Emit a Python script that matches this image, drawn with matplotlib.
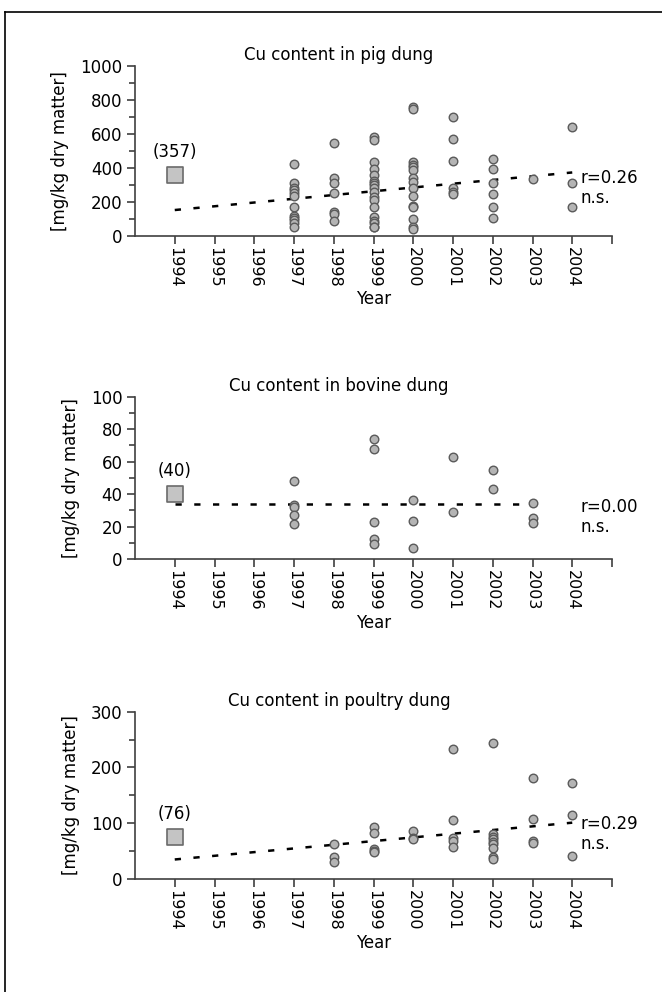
import numpy as np
import matplotlib
matplotlib.use("Agg")
import matplotlib.pyplot as plt
from matplotlib.lines import Line2D

plt.rcParams["font.family"] = ["DejaVu Sans"]
plt.rcParams["font.size"] = 12

years = list(range(1994, 2005))

# pig dung
pig_years = [1997] * 12 + [1998] * 7 + [1999] * 18 + [2000] * 15 + [2001] * 6 + [2002] * 6 + [2003] + [2004] * 3
pig_vals = [421, 308, 282, 269, 249, 235, 171, 118, 106, 92, 73, 49,
            545, 337, 308, 249, 137, 127, 88,
            578, 563, 435, 390, 357, 324, 308, 298, 278, 259, 229, 210, 171, 112, 88, 73, 53, 49,
            759, 743, 435, 416, 406, 386, 341, 318, 278, 235, 175, 167, 98, 49, 39,
            700, 569, 437, 278, 259, 243,
            449, 390, 308, 243, 171, 106,
            333,
            641, 308, 171]
pig_ref = 357
pig_trend = [(1994, 151), (2004, 372)]

# bovine dung
bov_years = [1997] * 5 + [1999] * 5 + [2000] * 3 + [2001] * 2 + [2002] * 2 + [2003] * 3
bov_vals = [48.3, 33, 32, 27, 21.4,
            74, 67.6, 23, 12.5, 9.4,
            36.3, 23.6, 7,
            63, 28.7,
            54.8, 43,
            34.7, 25.5, 22]
bov_ref = 40
bov_trend = [(1994, 34), (2003, 34)]

# poultry dung
pou_years = [1998] * 3 + [1999] * 5 + [2000] * 3 + [2001] * 5 + [2002] * 9 + [2003] * 4 + [2004] * 3
pou_vals = [63, 39, 30,
            93, 83, 54, 51, 48,
            86, 74, 72,
            234, 106, 74, 69, 58,
            244, 80, 76, 72, 67, 63, 56, 40, 36,
            182, 108, 68, 64,
            173, 115, 41]
pou_ref = 76
pou_trend = [(1994, 35), (2004, 101)]

panels = [
    dict(title="Cu content in pig dung", yrs=pig_years, vals=pig_vals, ref=pig_ref,
         trend=pig_trend, r="r=0.26", ymax=1000, major=200, minor=100,
         box=[135, 65.7, 612, 235.7], ry=178),
    dict(title="Cu content in bovine dung", yrs=bov_years, vals=bov_vals, ref=bov_ref,
         trend=bov_trend, r="r=0.00", ymax=100, major=20, minor=10,
         box=[135, 396.7, 612, 559], ry=507),
    dict(title="Cu content in poultry dung", yrs=pou_years, vals=pou_vals, ref=pou_ref,
         trend=pou_trend, r="r=0.29", ymax=300, major=100, minor=50,
         box=[135, 711.7, 612, 879], ry=824),
]

W, H = 662, 992
fig = plt.figure(figsize=(W / 100, H / 100), dpi=100)

# partial frame (top and left)
fig.add_artist(Line2D([5 / W, 5 / W], [0, 1 - 12 / H], color="black", lw=1.2))
fig.add_artist(Line2D([5 / W, 1], [1 - 12 / H, 1 - 12 / H], color="black", lw=1.2))

axis_col = "#404040"
for p in panels:
    x0, y0, x1, y1 = p["box"]
    ax = fig.add_axes([x0 / W, 1 - y1 / H, (x1 - x0) / W, (y1 - y0) / H])
    ax.set_xlim(1993, 2005)
    ax.set_ylim(0, p["ymax"])
    for s in ["top", "right"]:
        ax.spines[s].set_visible(False)
    for s in ["left", "bottom"]:
        ax.spines[s].set_color(axis_col)
        ax.spines[s].set_linewidth(1.2)
    ax.patch.set_visible(False)

    ax.set_xticks(list(range(1994, 2006)))
    ax.set_xticklabels([str(y) for y in years] + [""], rotation=270)
    ax.set_yticks(np.arange(0, p["ymax"] + 1, p["major"]))
    ax.set_yticks(np.arange(0, p["ymax"] + 1, p["minor"]), minor=True)
    ax.tick_params(axis="both", which="major", direction="out", length=6, width=1.2,
                   color=axis_col, labelsize=12, pad=3)
    ax.tick_params(axis="x", labelsize=11.5, pad=2)
    ax.tick_params(axis="y", which="minor", direction="out", length=4, width=1.2, color=axis_col)

    (tx0, ty0), (tx1, ty1) = p["trend"]
    ax.plot([tx0, tx1], [ty0, ty1], color="black", lw=1.8, dashes=(2.5, 5.0),
            solid_capstyle="butt", zorder=2)
    ax.scatter(p["yrs"], p["vals"], s=38, c="#b4b4b4", edgecolors="#5a5a5a",
               linewidths=1.0, zorder=3)
    ax.scatter([1994], [p["ref"]], s=130, marker="s", c="#c4c4c4",
               edgecolors="#6a6a6a", linewidths=1.2, zorder=3)
    ax.annotate("(%d)" % p["ref"], (1994, p["ref"]), xytext=(0, 10),
                textcoords="offset points", ha="center", va="bottom", fontsize=12)

    ax.set_xlabel("Year", fontsize=12, labelpad=2)
    ax.set_ylabel("[mg/kg dry matter]", fontsize=12, labelpad=8)

    fig.text(339 / W, 1 - (y0 - 11) / H, p["title"], ha="center", va="center", fontsize=12)
    fig.text(580 / W, 1 - p["ry"] / H, p["r"], ha="left", va="center", fontsize=12)
    fig.text(580 / W, 1 - (p["ry"] + 20) / H, "n.s.", ha="left", va="center", fontsize=12)

fig.savefig("out.png", dpi=100)
